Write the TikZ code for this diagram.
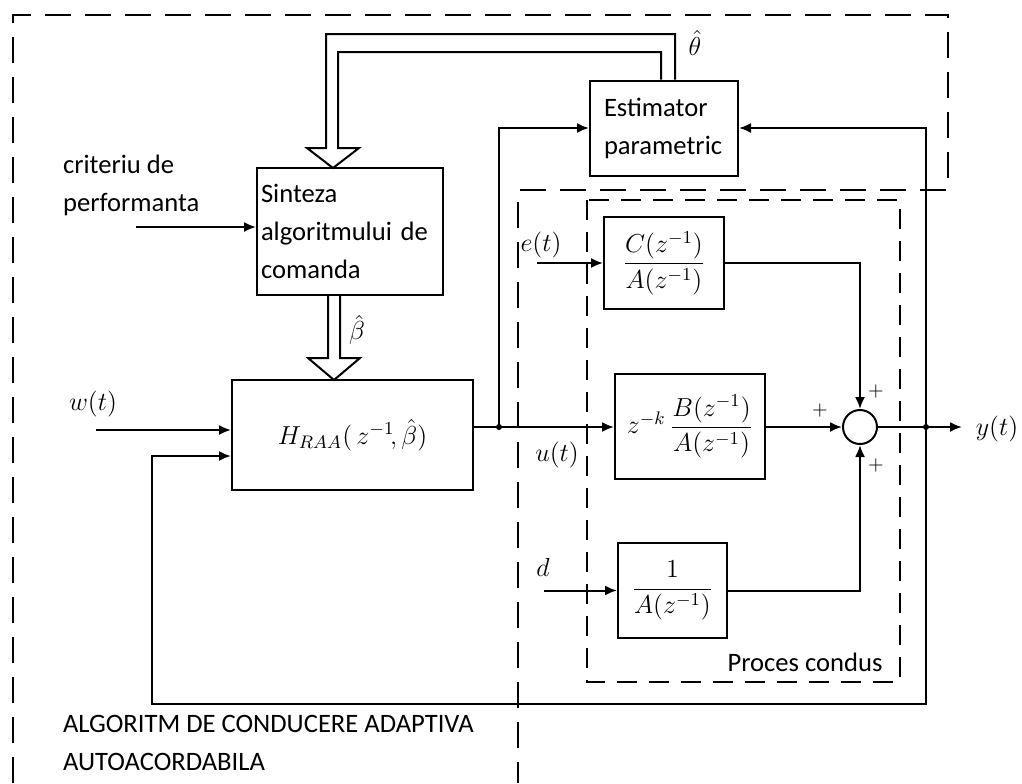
\RequirePackage{fix-cm}
\documentclass[tikz,border=0pt]{standalone}
\usepackage{fontspec}
\setmainfont{Carlito}
\usetikzlibrary{arrows.meta,calc}
\tikzset{
  blk/.style={draw,line width=1pt,inner sep=2pt,font=\fontsize{13}{16}\selectfont},
  txt/.style={font=\fontsize{13.3}{19}\selectfont},
  mth/.style={font=\fontsize{13}{16}\selectfont,inner sep=1pt},
  conn/.style={line width=1pt},
  arr/.style={line width=1pt,-{Latex[length=6pt,width=5pt]}},
  dashA/.style={line width=1pt,dash pattern=on 13pt off 7pt},
  dashB/.style={line width=1pt,dash pattern=on 10pt off 6pt},
  dot/.style={circle,fill,inner sep=0pt,minimum size=3pt}
}
\begin{document}
\begin{tikzpicture}[x=0.5pt,y=-0.5pt]
\useasboundingbox (0,0) rectangle (1022,783);
% boundaries
\draw[dashA] (13,783) -- (13,15) -- (948,15) -- (948,190) -- (518,190) -- (518,783);
\draw[dashB] (587,200) rectangle (900,682);
% blocks
\node[blk,txt,align=left,inner xsep=7pt,text width=60pt,minimum height=47.5pt] (est) at (664,128) {Estimator\\parametric};
\node[blk,txt,align=left,inner xsep=2pt,text width=89pt,minimum height=63.5pt] (sin) at (350,231.5) {Sinteza\\algoritmului de\\comanda};
\node[blk,minimum width=120.5pt,minimum height=55pt] (H) at (352.5,435) {$H_{RAA}(\,z^{-1}\!,\hat{\beta})$};
\node[blk,minimum width=60pt,minimum height=46pt] (C) at (664,263) {$\displaystyle\frac{C(z^{-1})}{A(z^{-1})}$};
\node[blk,minimum width=75pt,minimum height=52.5pt] (B) at (690,426.5) {$z^{-k}\,\displaystyle\frac{B(z^{-1})}{A(z^{-1})}$};
\node[blk,minimum width=54.5pt,minimum height=47.5pt] (D) at (672.5,590.5) {$\displaystyle\frac{1}{A(z^{-1})}$};
\node[draw,circle,line width=1pt,minimum size=17pt,inner sep=0pt] (sum) at (860,427) {};
% dots and free ends
\node[dot] (ud) at (499,427) {};
\node[dot] (yd) at (926,427) {};
\coordinate (yend) at (962,427);
\coordinate (fb) at (152,704);
\coordinate (win) at (96,430);
\coordinate (crit) at (136,227);
\coordinate (ein) at (537,263);
\coordinate (din) at (544,590.5);
% connectors
\draw[arr] (H.east |- sum.center) -- (B.west |- sum.center);
\draw[arr] (ud.center) |- (est.west);
\draw[arr] (B.east |- sum.center) -- (sum.west);
\draw[arr] (C.east) -| (sum.north);
\draw[arr] (D.east) -| (sum.south);
\draw[arr] (sum.east) -- (yend);
\draw[arr] (yd.center) |- (est.east);
\draw[arr] (yd.center) |- (fb) |- ([yshift=-10.5pt]H.west);
\draw[arr] (win) -- ([yshift=2.5pt]H.west);
\draw[arr] (crit) -- (sin.west |- crit);
\draw[arr] (ein) -- (C.west);
\draw[arr] (din) -- (D.west);
% hollow arrows
\draw[conn] ([xshift=-1.5pt]est.north) |- (338,52) -- (338,148) -- (359,148) -- (333,168) -- (307,148) -- (326,148) |- (675,34) -- ([xshift=5.5pt]est.north);
\draw[conn] (328,295) -- (328,358) -- (308,358) -- (334,380) -- (360,358) -- (340,358) -- (340,295);
% labels
\node[mth] at (695,43) {$\hat{\theta}$};
\node[mth] at (357,330) {$\hat{\beta}$};
\node[txt,align=left,anchor=west] at (56,185) {criteriu de\\performanta};
\node[mth] at (93,404) {$w(t)$};
\node[mth] at (541,245) {$e(t)$};
\node[mth] at (557,455) {$u(t)$};
\node[mth] at (543,567) {$d$};
\node[mth] at (997,429) {$y(t)$};
\node[inner sep=0pt] at (820,410) {$\mathbf{+}$};
\node[inner sep=0pt] at (876,391) {$\mathbf{+}$};
\node[inner sep=0pt] at (876,465) {$\mathbf{+}$};
\node[txt] at (805,662) {Proces condus};
\node[txt,align=left,anchor=west] at (56,743) {ALGORITM DE CONDUCERE ADAPTIVA\\AUTOACORDABILA};
\end{tikzpicture}
\end{document}
